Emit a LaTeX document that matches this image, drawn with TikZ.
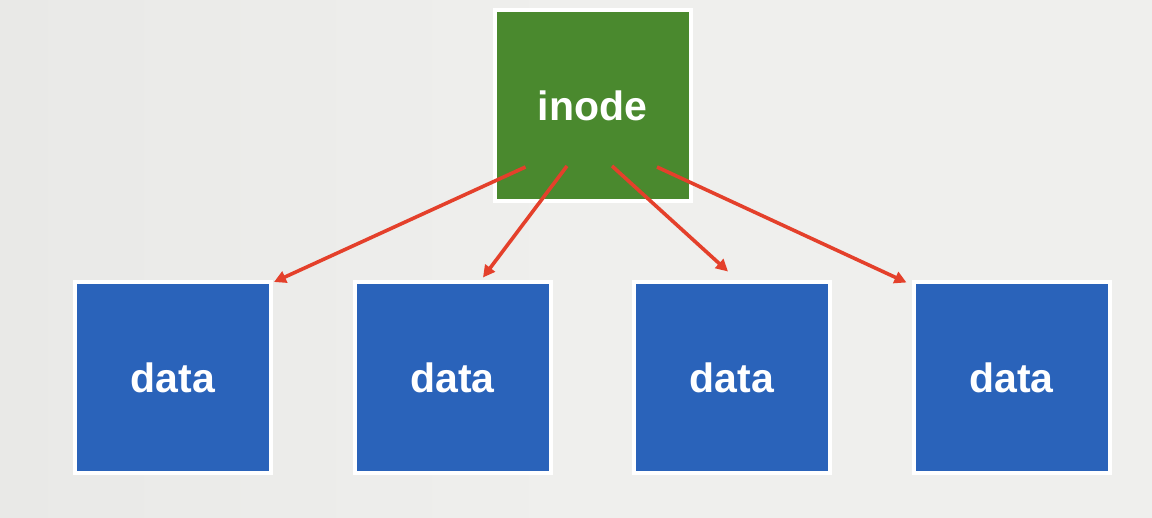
\documentclass[tikz,border=0pt]{standalone}
\usepackage{fontspec}
\setmainfont{Liberation Sans}
\usetikzlibrary{arrows.meta,calc}
\definecolor{bgA}{HTML}{E9E9E7}
\definecolor{bgB}{HTML}{EFEFED}
\definecolor{inodegreen}{HTML}{4A892E}
\definecolor{datablue}{HTML}{2A63BA}
\definecolor{arrowred}{HTML}{E4402B}
\tikzset{
  box/.style={draw=white, line width=4pt, minimum width=196pt, minimum height=191pt,
    inner sep=0pt, text=white, font=\fontsize{41}{41}\selectfont\bfseries},
  inodebox/.style={box, fill=inodegreen},
  databox/.style={box, fill=datablue},
  link/.style={draw=arrowred, line width=3.6pt, -{Triangle[length=12pt,width=12pt]}, shorten >=0pt}
}
\begin{document}
\begin{tikzpicture}[x=1pt,y=-1pt]
\shade[left color=bgA, right color=bgB, middle color=bgB] (0,0) rectangle (1152,518);
\useasboundingbox (0,0) rectangle (1152,518);
\node[inodebox] (inode) at (592.5,106) {inode};
\node[databox] (d1) at (173,377.5) {data};
\node[databox] (d2) at (452.5,378) {data};
\node[databox] (d3) at (732,378) {data};
\node[databox] (d4) at (1011.5,378) {data};
\coordinate (s1) at ($(inode.center)+(-67,61)$);
\coordinate (s2) at ($(inode.center)+(-25.5,60)$);
\coordinate (s3) at ($(inode.center)+(19.5,60)$);
\coordinate (s4) at ($(inode.center)+(64.5,61)$);
\coordinate (e1) at ($(d1.north east)+(1,2)$);
\coordinate (e2) at ($(d2.north)+(30.5,-3)$);
\coordinate (e3) at ($(d3.north)+(-4,-9)$);
\coordinate (e4) at ($(d4.north west)+(-5,2)$);
\draw[link] (s1) -- (e1);
\draw[link] (s2) -- (e2);
\draw[link] (s3) -- (e3);
\draw[link] (s4) -- (e4);
\end{tikzpicture}
\end{document}
